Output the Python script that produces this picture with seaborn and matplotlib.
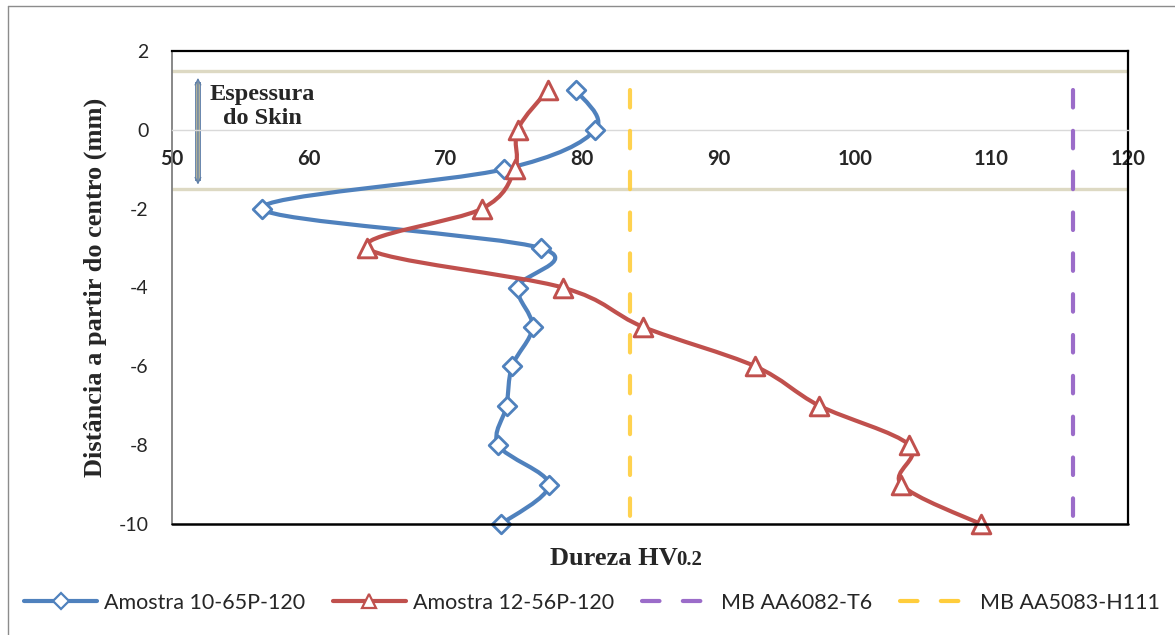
import numpy as np
import pandas as pd
import matplotlib
matplotlib.use("Agg")
import matplotlib.pyplot as plt
import seaborn as sns
from matplotlib.path import Path
from matplotlib.patches import PathPatch
from matplotlib.lines import Line2D

# ---------------- data ----------------
dist_mm = [1, 0, -1, -2, -3, -4, -5, -6, -7, -8, -9, -10]
hv_10_65P_120 = [79.6, 81.0, 74.3, 56.6, 77.0, 75.3, 76.4, 74.9, 74.5, 73.9, 77.6, 74.1]
hv_12_56P_120 = [77.5, 75.3, 75.1, 72.7, 64.3, 78.6, 84.5, 92.7, 97.4, 104.0, 103.4, 109.2]
mb_aa6082_t6 = 116.0
mb_aa5083_h111 = 83.5
ref_span = [1, -10]
skin_limits = [1.5, -1.5]
skin_arrow = [1.32, -1.39]

labels = ["Amostra 10-65P-120", "Amostra 12-56P-120", "MB AA6082-T6", "MB AA5083-H111"]
x_ticks = [50, 60, 70, 80, 90, 100, 110, 120]
y_ticks = [2, 0, -2, -4, -6, -8, -10]

BLUE = "#4f81bd"
RED = "#c0504d"
PURPLE = "#9b6cc9"
YELLOW = "#ffcd3c"
BEIGE = "#ddd9c3"
SERIF = ["Liberation Serif", "DejaVu Serif"]

sns.set_style("white")
plt.rcParams["font.family"] = ["Lato", "DejaVu Sans"]

fig = plt.figure(figsize=(11.75, 6.35), dpi=100)
ax = fig.add_axes([172 / 1175, 1 - 524 / 635, (1128 - 172) / 1175, (524 - 51) / 635])

df_blue = pd.DataFrame({"hv": hv_10_65P_120, "d": dist_mm})
df_red = pd.DataFrame({"hv": hv_12_56P_120, "d": dist_mm})
df_y = pd.DataFrame({"hv": [mb_aa5083_h111] * 2, "d": ref_span})
df_p = pd.DataFrame({"hv": [mb_aa6082_t6] * 2, "d": ref_span})


def smooth_path(xs, ys):
    pts = np.column_stack([xs, ys]).astype(float)
    n = len(pts)
    verts = [pts[0]]
    codes = [Path.MOVETO]
    for i in range(n - 1):
        p0 = pts[i - 1] if i > 0 else pts[i]
        p1 = pts[i]
        p2 = pts[i + 1]
        p3 = pts[i + 2] if i + 2 < n else pts[i + 1]
        c1 = p1 + (p2 - p0) / 6.0
        c2 = p2 - (p3 - p1) / 6.0
        verts += [c1, c2, p2]
        codes += [Path.CURVE4] * 3
    return Path(verts, codes)


# axes frame setup first (moving a spine resets tick labels)
ax.spines["bottom"].set_position(("data", 0))
ax.spines["bottom"].set_color("#d9d9d9")
ax.spines["bottom"].set_linewidth(1.0)
ax.spines["left"].set_color("#7f7f7f")
ax.spines["left"].set_linewidth(1.3)
for s in ["top", "right"]:
    ax.spines[s].set_color("black")
    ax.spines[s].set_linewidth(1.6)

# skin lines
for yv in skin_limits:
    ax.axhline(yv, color=BEIGE, lw=2.4, zorder=1)

# blue series
ax.add_patch(PathPatch(smooth_path(df_blue.hv, df_blue.d), fill=False, edgecolor=BLUE,
                       lw=3, zorder=3, capstyle="round", joinstyle="round", clip_on=False))
sns.scatterplot(data=df_blue, x="hv", y="d", marker="D", s=90, color="white",
                edgecolor=BLUE, linewidth=2.0, zorder=4, ax=ax, legend=False, clip_on=False)
# red series
ax.add_patch(PathPatch(smooth_path(df_red.hv, df_red.d), fill=False, edgecolor=RED,
                       lw=3, zorder=5, capstyle="round", joinstyle="round", clip_on=False))
sns.scatterplot(data=df_red, x="hv", y="d", marker="^", s=180, color="white",
                edgecolor=RED, linewidth=2.1, zorder=6, ax=ax, legend=False, clip_on=False)

# reference lines
sns.lineplot(data=df_p, x="hv", y="d", sort=False, orient="y", color=PURPLE, lw=3,
             dashes=False, ax=ax, zorder=7, estimator=None)
sns.lineplot(data=df_y, x="hv", y="d", sort=False, orient="y", color=YELLOW, lw=3,
             dashes=False, ax=ax, zorder=7, estimator=None, alpha=0.9)
for ln in ax.lines[-2:]:
    ln.set_dashes((4.2, 5.6))
    ln.set_dash_capstyle("round")

ax.set_xlim(50, 120)
ax.set_ylim(-10, 2)
ax.set_xticks(x_ticks)
ax.set_yticks(y_ticks)
ax.set_xticklabels([str(t) for t in x_ticks])
ax.set_yticklabels([str(t) for t in y_ticks])
ax.tick_params(axis="x", length=0, pad=14, labelsize=14.5)
ax.tick_params(axis="y", length=0, pad=17, labelsize=14)
for t in ax.get_xticklabels():
    t.set_fontweight("bold")
ax.set_xlabel("")
ax.set_ylabel("")
ax.grid(False)

ax.plot([0, 1], [0, 0], transform=ax.transAxes, color="black", lw=1.8, clip_on=False, zorder=10)

# skin arrow
ax.plot([51.9, 51.9], [skin_arrow[1] + 0.1, skin_arrow[0] - 0.1], color="#5f7fa8", lw=4.2,
        solid_capstyle="butt", zorder=2)
ax.plot([51.9, 51.9], [skin_arrow[1] + 0.1, skin_arrow[0] - 0.1], color="#c4bd97", lw=2.6,
        solid_capstyle="butt", zorder=2)
ax.annotate("", xy=(51.9, skin_arrow[0]), xytext=(51.9, skin_arrow[1]),
            arrowprops=dict(arrowstyle="<->", color="#5f7fa8", lw=1.0, shrinkA=0, shrinkB=0,
                            mutation_scale=10), zorder=2)
ax.text(56.6, 0.6, "Espessura\ndo Skin", ha="center", va="center", multialignment="center",
        fontsize=17.5, fontweight="bold", family=SERIF, linespacing=1.2, zorder=8)

# axis titles
fig.text(95 / 1175, 1 - 287 / 635, "Distância a partir do centro (mm)", rotation=90,
         ha="center", va="center", fontsize=19, fontweight="bold", family=SERIF)
fig.text(678 / 1175, 1 - 565 / 635, "Dureza HV", ha="right", va="baseline", fontsize=19,
         fontweight="bold", family=SERIF)
fig.text(676 / 1175, 1 - 565 / 635, "0.2", ha="left", va="baseline", fontsize=15,
         fontweight="bold", family=SERIF)

# legend
handles = [
    Line2D([], [], color=BLUE, lw=3, marker="D", ms=8, mfc="white", mec=BLUE, mew=1.6),
    Line2D([], [], color=RED, lw=3, marker="^", ms=10, mfc="white", mec=RED, mew=1.6),
    Line2D([], [], color=PURPLE, lw=3, dashes=(4.2, 5.6), dash_capstyle="round"),
    Line2D([], [], color=YELLOW, lw=3, dashes=(4.2, 5.6), dash_capstyle="round"),
]
fig.legend(handles, labels, loc="center", bbox_to_anchor=(592 / 1175, 1 - 603 / 635),
           ncol=4, frameon=False, fontsize=15.5, handlelength=3.4, handletextpad=0.3,
           columnspacing=1.3, borderaxespad=0)

# outer chart border
fig.add_artist(Line2D([7.5 / 1175, 7.5 / 1175], [0, 1 - 6 / 635], color="#8c8c8c", lw=1.0))
fig.add_artist(Line2D([7.5 / 1175, 1], [1 - 6 / 635, 1 - 6 / 635], color="#8c8c8c", lw=1.0))

fig.savefig("out.png", dpi=100)
